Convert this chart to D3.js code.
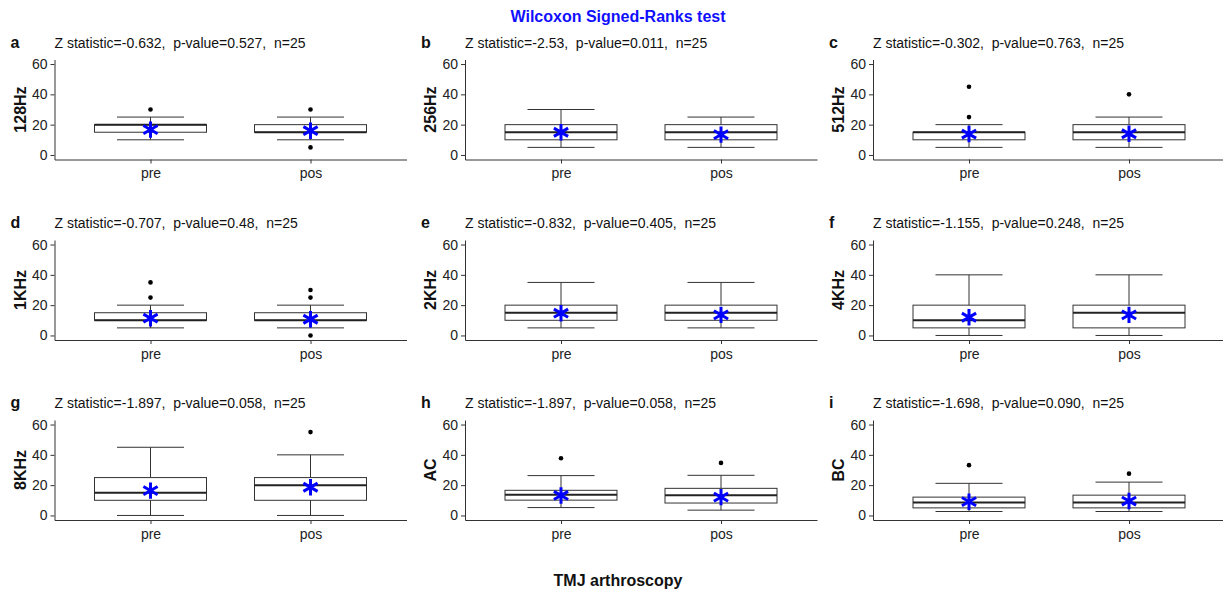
<!DOCTYPE html>
<html>
<head>
<meta charset="utf-8">
<script src="https://cdn.jsdelivr.net/npm/d3@7"></script>
<style>
  body { margin: 0; background: #fff; }
  text { font-family: "Liberation Sans", Arial, sans-serif; }
</style>
</head>
<body>
<div id="chart"></div>
<script>
// panel letters, y labels and test results
const letters = ['a', 'b', 'c', 'd', 'e', 'f', 'g', 'h', 'i'];
const yLabels = ['128Hz', '256Hz', '512Hz', '1KHz', '2KHz', '4KHz', '8KHz', 'AC', 'BC'];
const statTexts = [
  'Z statistic=-0.632,  p-value=0.527,  n=25',
  'Z statistic=-2.53,  p-value=0.011,  n=25',
  'Z statistic=-0.302,  p-value=0.763,  n=25',
  'Z statistic=-0.707,  p-value=0.48,  n=25',
  'Z statistic=-0.832,  p-value=0.405,  n=25',
  'Z statistic=-1.155,  p-value=0.248,  n=25',
  'Z statistic=-1.897,  p-value=0.058,  n=25',
  'Z statistic=-1.897,  p-value=0.058,  n=25',
  'Z statistic=-1.698,  p-value=0.090,  n=25'
];
const groups = ['pre', 'pos'];
const yTicks = [0, 20, 40, 60];

// box stats per panel, [pre, pos]
const whiskLow = [[10, 10], [5, 5], [5, 5], [5, 5], [5, 5], [0, 0], [0, 0], [5.2, 3.5], [2.6, 2.6]];
const q1 = [[15, 15], [10, 10], [10, 10], [10, 10], [10, 10], [5, 5], [10, 10], [10.1, 8.2], [5, 5]];
const median = [[20, 15], [15, 15], [15, 15], [10, 10], [15, 15], [10, 15], [15, 20], [13.6, 13.4], [8.6, 8.6]];
const q3 = [[20, 20], [20, 20], [15, 20], [15, 15], [20, 20], [20, 20], [25, 25], [16.6, 17.9], [12.1, 13.4]];
const whiskHigh = [[25, 25], [30, 25], [20, 25], [20, 20], [35, 35], [40, 40], [45, 40], [26.3, 26.5], [21.2, 22]];
const means = [[16.7, 16], [15, 13.4], [13.8, 14], [11.4, 10.7], [14.7, 13.6], [12, 13.6], [16.4, 18.6], [13.2, 12.1], [9.1, 9.5]];
const outliers = [
  [[30], [30, 5]],
  [[], []],
  [[45, 25], [40]],
  [[35, 25], [30, 25, 0]],
  [[], []],
  [[], []],
  [[], [55]],
  [[37.8], [34.7]],
  [[33.2], [27.6]]
];

const W = 1223, H = 592;
const colX = [54.5, 465, 873];
const rowY = [59.5, 240, 420];
const plotW = 352, plotH = 100;

const svg = d3.select('#chart').append('svg')
  .attr('width', W)
  .attr('height', H);

svg.append('text')
  .attr('x', 618).attr('y', 22)
  .attr('text-anchor', 'middle')
  .style('font-size', '16px').style('font-weight', 'bold')
  .style('fill', '#1010ff')
  .text('Wilcoxon Signed-Ranks test');

svg.append('text')
  .attr('x', 618).attr('y', 586)
  .attr('text-anchor', 'middle')
  .style('font-size', '16px').style('font-weight', 'bold')
  .style('fill', '#111')
  .text('TMJ arthroscopy');

const x = d3.scalePoint().domain(groups).range([0, plotW]).padding(0.6);
const y = d3.scaleLinear().domain([-3, 63]).range([plotH, 0]);
const boxW = 112, capW = 67;
const star = d3.symbol().type(d3.symbolAsterisk).size(190);

letters.forEach((letter, p) => {
  const g = svg.append('g')
    .attr('transform', `translate(${colX[p % 3]},${rowY[Math.floor(p / 3)]})`);

  g.append('text')
    .attr('x', -44).attr('y', -12)
    .style('font-size', '16px').style('font-weight', 'bold')
    .style('fill', '#111')
    .text(letter);

  g.append('text')
    .attr('x', 0).attr('y', -12)
    .style('font-size', '14px').style('white-space', 'pre')
    .style('fill', '#111')
    .text(statTexts[p]);

  g.append('text')
    .attr('transform', `translate(-29,${plotH / 2}) rotate(-90)`)
    .attr('text-anchor', 'middle')
    .style('font-size', '16px').style('font-weight', 'bold')
    .style('fill', '#111')
    .text(yLabels[p]);

  const yAxis = g.append('g')
    .call(d3.axisLeft(y).tickValues(yTicks).tickSize(4).tickPadding(3).tickSizeOuter(0));
  yAxis.select('.domain').attr('stroke', '#333');
  yAxis.selectAll('.tick line').attr('stroke', '#333');
  yAxis.selectAll('.tick text').style('font-size', '14px').style('fill', '#222')
    .style('font-family', '"Liberation Sans", Arial, sans-serif');

  const xAxis = g.append('g')
    .attr('transform', `translate(0,${plotH})`)
    .call(d3.axisBottom(x).tickSize(4).tickPadding(5).tickSizeOuter(0));
  xAxis.select('.domain').attr('stroke', '#333');
  xAxis.selectAll('.tick line').attr('stroke', '#333');
  xAxis.selectAll('.tick text').style('font-size', '14px').style('fill', '#222')
    .style('font-family', '"Liberation Sans", Arial, sans-serif');

  groups.forEach((grp, k) => {
    const cx = x(grp);
    const b = g.append('g');
    // whiskers
    b.append('line')
      .attr('x1', cx).attr('x2', cx)
      .attr('y1', y(whiskLow[p][k])).attr('y2', y(whiskHigh[p][k]))
      .attr('stroke', '#333').attr('stroke-width', 1);
    [whiskLow[p][k], whiskHigh[p][k]].forEach(v => {
      b.append('line')
        .attr('x1', cx - capW / 2).attr('x2', cx + capW / 2)
        .attr('y1', y(v)).attr('y2', y(v))
        .attr('stroke', '#333').attr('stroke-width', 1);
    });
    // box
    b.append('rect')
      .attr('x', cx - boxW / 2).attr('width', boxW)
      .attr('y', y(q3[p][k])).attr('height', y(q1[p][k]) - y(q3[p][k]))
      .attr('fill', '#fff').attr('stroke', '#333').attr('stroke-width', 1);
    b.append('line')
      .attr('x1', cx - boxW / 2).attr('x2', cx + boxW / 2)
      .attr('y1', y(median[p][k])).attr('y2', y(median[p][k]))
      .attr('stroke', '#222').attr('stroke-width', 2);
    // outliers
    b.selectAll('circle')
      .data(outliers[p][k])
      .enter().append('circle')
      .attr('cx', cx).attr('cy', d => y(d))
      .attr('r', 2.3).attr('fill', '#000');
    // mean
    b.append('path')
      .attr('d', star)
      .attr('transform', `translate(${cx},${y(means[p][k])})`)
      .attr('fill', 'none').attr('stroke', '#0000ff').attr('stroke-width', 3);
  });
});
</script>
</body>
</html>
